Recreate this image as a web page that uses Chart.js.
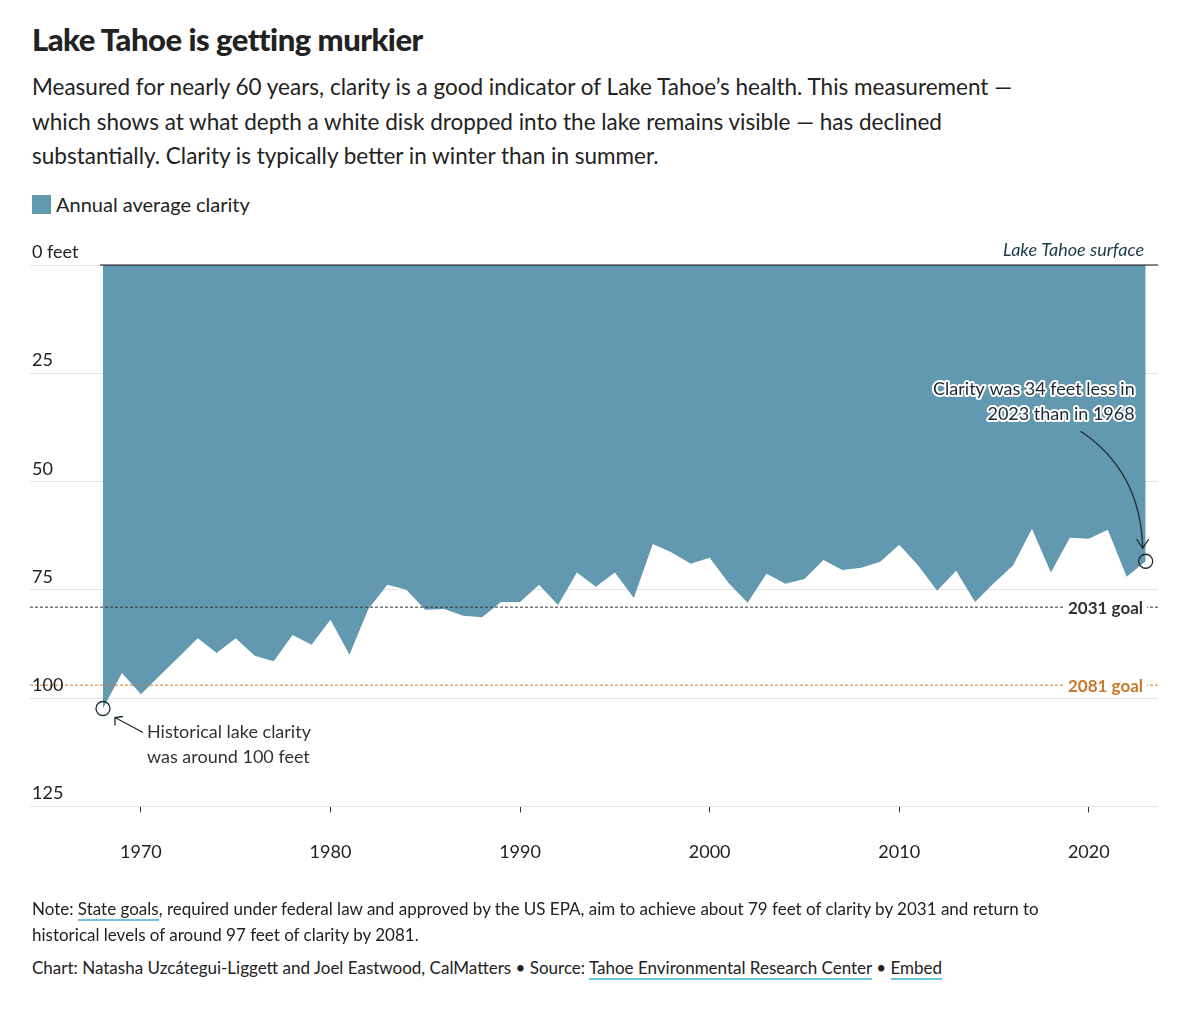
<!DOCTYPE html>
<html>
<head>
<meta charset="utf-8">
<script src="https://cdn.jsdelivr.net/npm/chart.js@4.4.0/dist/chart.umd.min.js"></script>
<style>
  body { margin: 0; background: #fff; font-family: Lato, "Noto Sans", sans-serif; color: #222; }
  #wrap { position: relative; width: 1200px; height: 1021px; }
  h1 { position: absolute; left: 32px; top: 20px; margin: 0; font-size: 31px; font-weight: 900; letter-spacing: -0.5px; }
  .sub { position: absolute; left: 32px; top: 70px; width: 1010px; font-size: 22.5px; line-height: 34.5px; color: #222; }
  .legend { position: absolute; left: 32px; top: 192px; font-size: 20px; display: flex; align-items: center; }
  .legend span { display: inline-block; width: 19px; height: 19px; background: #6399b0; margin-right: 5px; }
  #box { position: absolute; left: 0; top: 230px; width: 1200px; height: 680px; }
  .note { position: absolute; left: 32px; top: 896px; width: 1050px; font-size: 17px; line-height: 26px; }
  .credit { position: absolute; left: 32px; top: 957px; font-size: 17px; }
  u { text-decoration: none; border-bottom: 2px solid #6cc6dd; }
</style>
</head>
<body>
<div id="wrap">
  <h1>Lake Tahoe is getting murkier</h1>
  <div class="sub">Measured for nearly 60 years, clarity is a good indicator of Lake Tahoe’s health. This measurement — which shows at what depth a white disk dropped into the lake remains visible — has declined substantially. Clarity is typically better in winter than in summer.</div>
  <div class="legend"><span></span>Annual average clarity</div>
  <div id="box"><canvas id="c"></canvas></div>
  <div class="note">Note: <u>State goals</u>, required under federal law and approved by the US EPA, aim to achieve about 79 feet of clarity by 2031 and return to historical levels of around 97 feet of clarity by 2081.</div>
  <div class="credit">Chart: Natasha Uzcátegui-Liggett and Joel Eastwood, CalMatters • Source: <u>Tahoe Environmental Research Center</u> • <u>Embed</u></div>
</div>
<script>
const years = [];
for (let y = 1968; y <= 2023; y++) years.push(y);
const clarity = [102.4, 94.2, 99.1, 94.8, 90.5, 86.2, 89.6, 86.2, 90.2, 91.5, 85.4, 87.7, 81.9, 90.0, 79.4, 73.8, 75.0, 79.6, 79.4, 81.0, 81.3, 77.8, 77.8, 73.8, 78.5, 71.0, 74.3, 71.0, 76.9,
  64.4, 66.4, 69.0, 67.6, 73.4, 78.0, 71.3, 73.6, 72.5, 68.1, 70.4, 69.9, 68.5, 64.6, 69.4, 75.2, 70.6, 77.8, 73.4, 69.4, 60.9, 71.0, 63.0, 63.2, 61.1, 72.0, 68.4];
const goals = [{ label: '2031 goal', value: 79, color: '#333' }, { label: '2081 goal', value: 97, color: '#c8782a' }];
const yTicks = [0, 25, 50, 75, 100, 125];
const xMin = 1964.15, xMax = 2023.65;

const overlay = {
  id: 'overlay',
  afterDatasetsDraw(chart) {
    const { ctx, chartArea: a, scales: { x, y } } = chart;
    ctx.save();
    // y labels
    ctx.font = '18px Lato, "Noto Sans"';
    ctx.fillStyle = '#222';
    ctx.textBaseline = 'alphabetic';
    yTicks.forEach(t => ctx.fillText(t === 0 ? '0 feet' : String(t), a.left + 2, y.getPixelForValue(t) - 7));
    // surface line
    ctx.strokeStyle = '#111'; ctx.lineWidth = 1.2;
    ctx.beginPath(); ctx.moveTo(x.getPixelForValue(1968) - 3, a.top); ctx.lineTo(a.right, a.top); ctx.stroke();
    ctx.font = 'italic 18px Lato, "Noto Sans"'; ctx.fillStyle = '#1c3b4a'; ctx.textAlign = 'right';
    ctx.fillText('Lake Tahoe surface', a.right - 14, a.top - 9);
    // goal labels
    ctx.font = 'bold 17px Lato, "Noto Sans"';
    goals.forEach(g => {
      const py = y.getPixelForValue(g.value);
      const w = ctx.measureText(g.label).width;
      ctx.fillStyle = '#fff'; ctx.fillRect(a.right - 15 - w - 4, py - 10, w + 8, 20);
      ctx.fillStyle = g.color; ctx.textBaseline = 'middle';
      ctx.fillText(g.label, a.right - 15, py + 1);
    });
    // circles
    const p0 = [x.getPixelForValue(1968), y.getPixelForValue(clarity[0])];
    const p1 = [x.getPixelForValue(2023), y.getPixelForValue(clarity[clarity.length - 1])];
    ctx.strokeStyle = '#1a2a33'; ctx.lineWidth = 1.3;
    [p0, p1].forEach(p => { ctx.beginPath(); ctx.arc(p[0], p[1], 7, 0, Math.PI * 2); ctx.stroke(); });
    // bottom-left annotation
    ctx.beginPath(); ctx.moveTo(p0[0] + 40, p0[1] + 24); ctx.lineTo(p0[0] + 12, p0[1] + 9); ctx.stroke();
    ctx.beginPath(); ctx.moveTo(p0[0] + 12, p0[1] + 17); ctx.lineTo(p0[0] + 12, p0[1] + 9); ctx.lineTo(p0[0] + 20, p0[1] + 8); ctx.stroke();
    ctx.textAlign = 'left'; ctx.textBaseline = 'alphabetic'; ctx.fillStyle = '#333';
    ctx.font = '18px Lato, "Noto Sans"';
    ctx.fillText('Historical lake clarity', p0[0] + 44, p0[1] + 29);
    ctx.fillText('was around 100 feet', p0[0] + 44, p0[1] + 54);
    // top-right annotation
    ctx.beginPath(); ctx.moveTo(p1[0] - 65, p1[1] - 130);
    ctx.quadraticCurveTo(p1[0] - 5, p1[1] - 90, p1[0] - 3, p1[1] - 13); ctx.stroke();
    ctx.beginPath(); ctx.moveTo(p1[0] - 9, p1[1] - 22); ctx.lineTo(p1[0] - 3, p1[1] - 13); ctx.lineTo(p1[0] + 3, p1[1] - 22); ctx.stroke();
    ctx.textAlign = 'right';
    const lines = ['Clarity was 34 feet less in', '2023 than in 1968'];
    lines.forEach((t, i) => {
      const ty = p1[1] - 166 + i * 25;
      ctx.lineWidth = 4; ctx.lineJoin = 'round'; ctx.strokeStyle = '#fff'; ctx.strokeText(t, p1[0] - 11, ty);
      ctx.fillStyle = '#1a2a33'; ctx.fillText(t, p1[0] - 11, ty);
    });
    ctx.restore();
  }
};

new Chart(document.getElementById('c'), {
  type: 'line',
  data: {
    datasets: [
      {
        label: 'Annual average clarity',
        data: years.map((yr, i) => ({ x: yr, y: clarity[i] })),
        fill: { value: 0 }, backgroundColor: '#6399b0', borderWidth: 0, pointRadius: 0, tension: 0, order: 2
      },
      ...goals.map(g => ({
        label: g.label,
        data: [{ x: xMin, y: g.value }, { x: xMax, y: g.value }],
        borderColor: g.color, borderWidth: 1, borderDash: [3, 2], pointRadius: 0, fill: false, order: 1
      }))
    ]
  },
  options: {
    responsive: true, maintainAspectRatio: false, animation: false,
    layout: { padding: { left: 30, right: 42, top: 35, bottom: 18 } },
    plugins: { legend: { display: false }, tooltip: { enabled: false } },
    scales: {
      x: {
        type: 'linear', min: xMin, max: xMax,
        afterBuildTicks: s => { s.ticks = [1970, 1980, 1990, 2000, 2010, 2020].map(v => ({ value: v })); },
        grid: { display: true, drawOnChartArea: false, color: '#333', tickLength: 6 },
        border: { display: false },
        ticks: { color: '#222', font: { size: 18, family: 'Lato' }, padding: 29, callback: v => String(v) }
      },
      y: {
        reverse: true, min: 0, max: 125,
        afterBuildTicks: s => { s.ticks = yTicks.map(v => ({ value: v })); },
        grid: { color: '#e3e3e3', drawTicks: false },
        border: { display: false },
        ticks: { display: false }
      }
    }
  },
  plugins: [overlay]
});
</script>
</body>
</html>
